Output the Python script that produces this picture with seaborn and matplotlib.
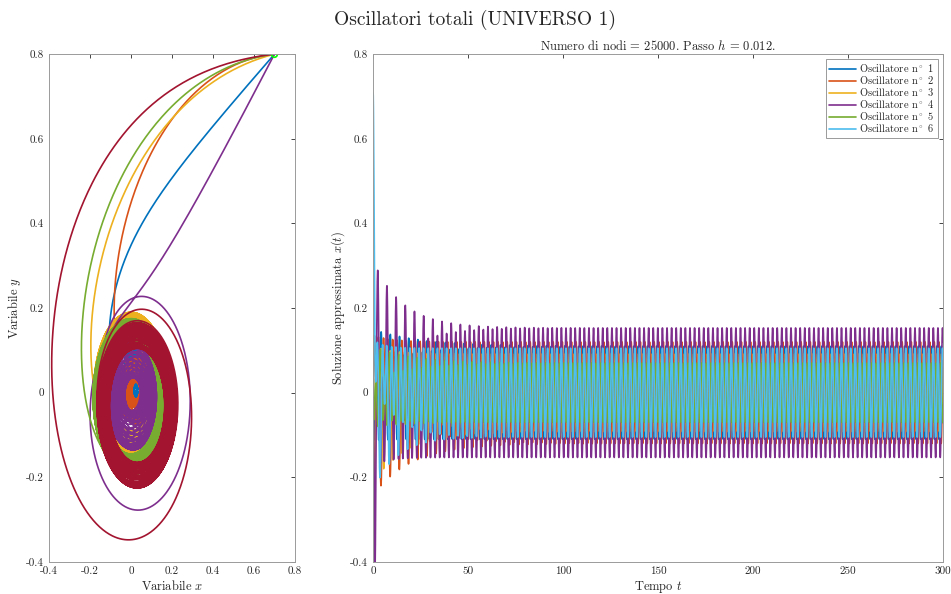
import numpy as np
import pandas as pd
import matplotlib
matplotlib.use("Agg")
import matplotlib.pyplot as plt
import seaborn as sns
from matplotlib.ticker import FuncFormatter, MultipleLocator

# integration grid (as in the subtitle)
h = 0.012
n_nodes = 25000
t = np.arange(n_nodes + 1) * h

# common starting point of the phase trajectories
x_start, y_start = 0.7, 0.8

# --- time series x(t), oscillators 1..6 ---
osc_labels = [f"Oscillatore n$^\\circ$ {k}" for k in range(1, 7)]
osc_colors = ["#0072BD", "#D95319", "#EDB120", "#7E2F8E", "#77AC30", "#4DBEEE"]
omega_steady = 2.6
omega_trans = 1.3
steady_amp = [0.11, 0.12, 0.092, 0.153, 0.07, 0.105]
steady_phase = [2.96, 0.07, 2.55, 1.35, 4.0, 1.38]
trans_amp = [0.04, 0.123, 0.12, 0.16, 0.04, 0.13]
trans_tau = [25, 20, 18, 15.5, 20, 12]
trans_phase = [0.69, -2.32, 2.06, -3.25, 1.0, -1.67]
kick_amp = [0.0, 0.0, 0.0, -0.24, 0.0, 0.61]
kick_time = [0.0, 0.0, 0.0, 1.05, 0.0, 0.0]
kick_width = [1.0, 1.0, 1.0, 0.5, 1.0, 0.7]

# --- phase plane: radius obeys dr/dt = -c r^p (r - R), angle turns at unit speed,
#     plus a slow second mode of amplitude a and frequency nu ---
phase_colors = ["#0072BD", "#D95319", "#EDB120", "#7E2F8E", "#77AC30", "#A2142F"]
ph_cx = [0.05, 0.024, 0.0, 0.01, 0.0, 0.03]
ph_cy = [0.06, 0.005, 0.01, -0.005, -0.01, -0.03]
ph_c = [3.0, 1.0, 1.3, 9.8, 1.15, 1.0]
ph_p = [1.0, -0.5, 0.0, 1.0, 0.0, 1.0]
ph_R = [0.05, 0.05, 0.14, 0.085, 0.16, 0.165]
ph_a = [0.03, 0.03, 0.04, 0.045, 0.025, 0.03]
ph_nu = [0.55, 0.45, 0.62, 0.63, 0.71, 1.37]
ph_phase = [0.0, 0.0, 0.0, -3.75, 0.0, 0.0]
ph_bump = [0.0, 0.0, 0.0, 0.17, 0.0, 0.0]
ph_grow = 5.0
ph_bump_t = 5.0


def time_series(k):
    x = steady_amp[k] * np.sin(omega_steady * t + steady_phase[k])
    x += trans_amp[k] * np.exp(-t / trans_tau[k]) * np.cos(omega_trans * t + trans_phase[k])
    x += kick_amp[k] * np.exp(-((t - kick_time[k]) / kick_width[k]) ** 2)
    return x


def radii():
    c = np.array(ph_c)
    p = np.array(ph_p)
    R = np.array(ph_R)
    r = np.hypot(x_start - np.array(ph_cx), y_start - np.array(ph_cy))
    f = lambda q: -c * q ** p * (q - R)
    out = np.empty((len(t), len(c)))
    out[0] = r
    for i in range(1, len(t)):
        k1 = f(r)
        k2 = f(r + 0.5 * h * k1)
        k3 = f(r + 0.5 * h * k2)
        k4 = f(r + h * k3)
        r = r + h / 6 * (k1 + 2 * k2 + 2 * k3 + k4)
        out[i] = r
    return out


rad = radii()


def phase_curve(k):
    th0 = np.arctan2(y_start - ph_cy[k], x_start - ph_cx[k])
    r = rad[:, k]
    a = ph_a[k] * (1 - np.exp(-t / ph_grow))
    a += ph_bump[k] * (t / ph_bump_t) * np.exp(1 - t / ph_bump_t)
    phi = ph_nu[k] * t + ph_phase[k]
    x = ph_cx[k] + r * np.cos(th0 + t) + a * np.cos(phi)
    y = ph_cy[k] + r * np.sin(th0 + t) + a * np.sin(phi)
    return x, y


ts = pd.concat([pd.DataFrame({"t": t, "x": time_series(k), "osc": osc_labels[k]})
                for k in range(6)], ignore_index=True)
ph_frames = []
for k in range(len(phase_colors)):
    px, py = phase_curve(k)
    ph_frames.append(pd.DataFrame({"x": px, "y": py, "curve": f"c{k}"}))
ph = pd.concat(ph_frames, ignore_index=True)

sns.set_theme(style="white")
plt.rcParams.update({
    "font.family": "serif",
    "font.serif": ["cmr10"],
    "mathtext.fontset": "cm",
    "axes.unicode_minus": False,
    "axes.formatter.use_mathtext": True,
    "text.color": "#262626",
    "axes.labelcolor": "#262626",
    "xtick.color": "#262626",
    "ytick.color": "#262626",
    "axes.edgecolor": "#9a9a9a",
    "axes.linewidth": 0.7,
    "xtick.direction": "in",
    "ytick.direction": "in",
    "xtick.top": True,
    "ytick.right": True,
    "xtick.major.size": 3,
    "ytick.major.size": 3,
    "xtick.major.width": 0.6,
    "ytick.major.width": 0.6,
    "xtick.labelsize": 8,
    "ytick.labelsize": 8,
})

fig = plt.figure(figsize=(9.51, 5.94), dpi=100)
ax1 = fig.add_axes([0.0515, 0.0539, 0.2587, 0.855])
ax2 = fig.add_axes([0.3922, 0.0539, 0.5994, 0.855])

fmt = FuncFormatter(lambda v, p: "0" if abs(v) < 1e-9 else f"{round(v, 6):g}")

sns.lineplot(data=ph, x="x", y="y", hue="curve", palette=phase_colors, sort=False,
             estimator=None, legend=False, lw=1.2, ax=ax1)
ax1.plot(x_start, y_start, "o", mfc="none", mec="#00FF00", ms=4, mew=1.2)
ax1.set_xlim(-0.4, 0.8)
ax1.set_ylim(-0.4, 0.8)
ax1.xaxis.set_major_locator(MultipleLocator(0.2))
ax1.yaxis.set_major_locator(MultipleLocator(0.2))
ax1.xaxis.set_major_formatter(fmt)
ax1.yaxis.set_major_formatter(fmt)
ax1.set_xlabel("Variabile $x$", fontsize=9, labelpad=2)
ax1.set_ylabel("Variabile $y$", fontsize=9, labelpad=2)

sns.lineplot(data=ts, x="t", y="x", hue="osc", palette=osc_colors, sort=False,
             estimator=None, lw=1.2, ax=ax2)
ax2.set_xlim(0, 300)
ax2.set_ylim(-0.4, 0.8)
ax2.xaxis.set_major_locator(MultipleLocator(50))
ax2.yaxis.set_major_locator(MultipleLocator(0.2))
ax2.xaxis.set_major_formatter(fmt)
ax2.yaxis.set_major_formatter(fmt)
ax2.set_xlabel("Tempo $t$", fontsize=9, labelpad=2)
ax2.set_ylabel("Soluzione approssimata $x(t)$", fontsize=9, labelpad=2)
ax2.set_title("Numero di nodi = 25000. Passo $h$ = 0.012.", fontsize=9, pad=3)
handles, labels = ax2.get_legend_handles_labels()
leg = ax2.legend(handles, labels, loc="upper right", fontsize=7.5, frameon=True,
                 fancybox=False, edgecolor="#9a9a9a", framealpha=1, borderpad=0.3,
                 labelspacing=0.0, handlelength=2.6, handletextpad=0.3,
                 borderaxespad=0.5)
leg.get_frame().set_linewidth(0.7)

fig.text(0.5, 0.966, "Oscillatori totali (UNIVERSO 1)", ha="center", va="center",
         fontsize=14)

fig.savefig("out.png", dpi=100)
